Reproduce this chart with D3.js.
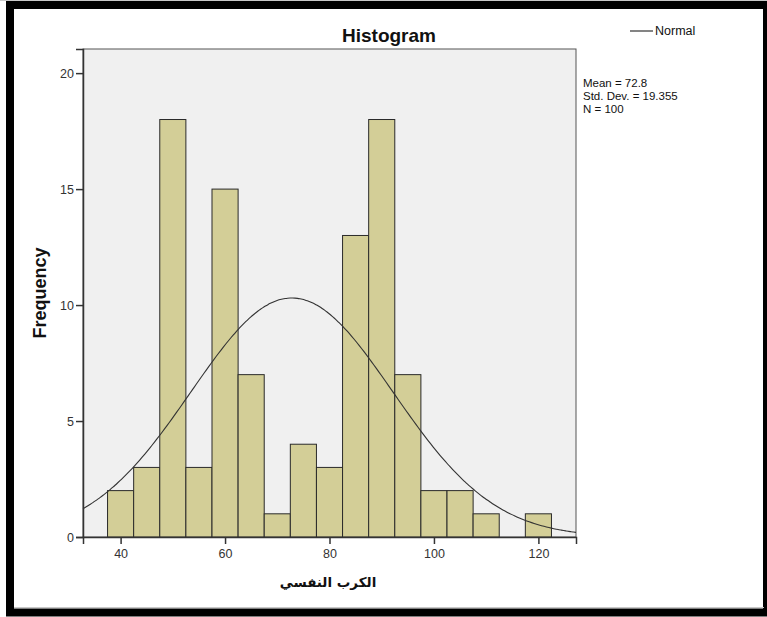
<!DOCTYPE html>
<html>
<head>
<meta charset="utf-8">
<script src="https://cdn.jsdelivr.net/npm/d3@7"></script>
<style>
  body { margin: 0; background: #fff; }
  svg { display: block; font-family: "Liberation Sans", Arial, sans-serif; }
</style>
</head>
<body>
<svg id="chart" width="767" height="617"></svg>
<script>
// histogram bins (centres) and counts
const binCenters = [40, 45, 50, 55, 60, 65, 70, 75, 80, 85, 90, 95, 100, 105, 110, 115, 120];
const counts     = [2, 3, 18, 3, 15, 7, 1, 4, 3, 13, 18, 7, 2, 2, 1, 0, 1];
const binWidth = 5;
const xTicks = [40, 60, 80, 100, 120];
const yTicks = [0, 5, 10, 15, 20];
const statLines = ["Mean = 72.8", "Std. Dev. = 19.355", "N = 100"];
const mean = 72.8, sd = 19.355, n = 100;

const svg = d3.select("#chart");

// outer black frame
svg.append("line").attr("x1", 0).attr("x2", 767).attr("y1", 0.5).attr("y2", 0.5)
  .attr("stroke", "#c8c8c8").attr("stroke-width", 1);
svg.append("rect").attr("x", 10).attr("y", 5).attr("width", 757).attr("height", 607.5)
  .attr("fill", "none").attr("stroke", "#000").attr("stroke-width", 8);
svg.append("line").attr("x1", 14).attr("x2", 764).attr("y1", 607.5).attr("y2", 607.5)
  .attr("stroke", "#c8c8c8").attr("stroke-width", 1);

const plot = { left: 83, right: 576, top: 49, bottom: 537 };

const x = d3.scaleLinear().domain([32.8, 127.2]).range([plot.left, plot.right]);
const y = d3.scaleLinear().domain([0, 21.04]).range([plot.bottom, plot.top]);

// plot background
svg.append("rect")
  .attr("x", plot.left).attr("y", plot.top)
  .attr("width", plot.right - plot.left).attr("height", plot.bottom - plot.top)
  .attr("fill", "#f0f0f0").attr("stroke", "#555").attr("stroke-width", 1);

// bars
const bins = binCenters.map((c, i) => ({ c: c, v: counts[i] })).filter(d => d.v > 0);
svg.selectAll("rect.bar").data(bins).enter()
  .append("rect").attr("class", "bar")
  .attr("x", d => x(d.c - binWidth / 2))
  .attr("y", d => y(d.v))
  .attr("width", d => x(d.c + binWidth / 2) - x(d.c - binWidth / 2))
  .attr("height", d => y(0) - y(d.v))
  .attr("fill", "#d3ce97")
  .attr("stroke", "#2a2a2a").attr("stroke-width", 1);

// normal curve from the stated mean / sd / N
const xs = d3.range(0, 201).map(i => 32.8 + (127.2 - 32.8) * i / 200);
const normal = xs.map(v => ({
  x: v,
  y: n * binWidth * Math.exp(-0.5 * Math.pow((v - mean) / sd, 2)) / (sd * Math.sqrt(2 * Math.PI))
}));
svg.append("path")
  .datum(normal)
  .attr("d", d3.line().x(d => x(d.x)).y(d => y(d.y)).curve(d3.curveBasis))
  .attr("fill", "none").attr("stroke", "#333").attr("stroke-width", 1.1);

// axes
const xAxis = svg.append("g")
  .attr("transform", `translate(0,${plot.bottom})`)
  .call(d3.axisBottom(x).tickValues(xTicks).tickSize(7).tickPadding(5));
const yAxis = svg.append("g")
  .attr("transform", `translate(${plot.left},0)`)
  .call(d3.axisLeft(y).tickValues(yTicks).tickSize(7).tickPadding(2));
[xAxis, yAxis].forEach(g => {
  g.select(".domain").attr("stroke", "#333").attr("stroke-width", 1.5);
  g.selectAll(".tick line").attr("stroke", "#333").attr("stroke-width", 1.5);
  g.selectAll(".tick text").attr("fill", "#333")
    .style("font-size", "12.5px").style("font-family", "Liberation Sans, Arial, sans-serif");
});

// title
svg.append("text")
  .attr("x", 389).attr("y", 42)
  .attr("text-anchor", "middle")
  .style("font-size", "19px").style("font-weight", "bold")
  .attr("fill", "#111")
  .text("Histogram");

// axis titles
svg.append("text")
  .attr("transform", `translate(46,${(plot.top + plot.bottom) / 2}) rotate(-90)`)
  .attr("text-anchor", "middle")
  .style("font-size", "18px").style("font-weight", "bold")
  .attr("fill", "#111")
  .text("Frequency");

svg.append("text")
  .attr("x", 328).attr("y", 587)
  .attr("text-anchor", "middle")
  .attr("direction", "rtl")
  .style("font-size", "13.5px").style("font-weight", "bold")
  .style("font-family", "DejaVu Sans, Noto Sans, sans-serif")
  .attr("fill", "#111")
  .text("الكرب النفسي");

// legend
svg.append("line")
  .attr("x1", 630).attr("x2", 653).attr("y1", 31).attr("y2", 31)
  .attr("stroke", "#333").attr("stroke-width", 1.2);
svg.append("text")
  .attr("x", 655).attr("y", 35)
  .style("font-size", "12.5px").attr("fill", "#111")
  .text("Normal");

// stats box
svg.append("g").selectAll("text").data(statLines).enter()
  .append("text")
  .attr("x", 583)
  .attr("y", (d, i) => 86.5 + i * 13)
  .style("font-size", "11.5px").attr("fill", "#111")
  .text(d => d);
</script>
</body>
</html>
